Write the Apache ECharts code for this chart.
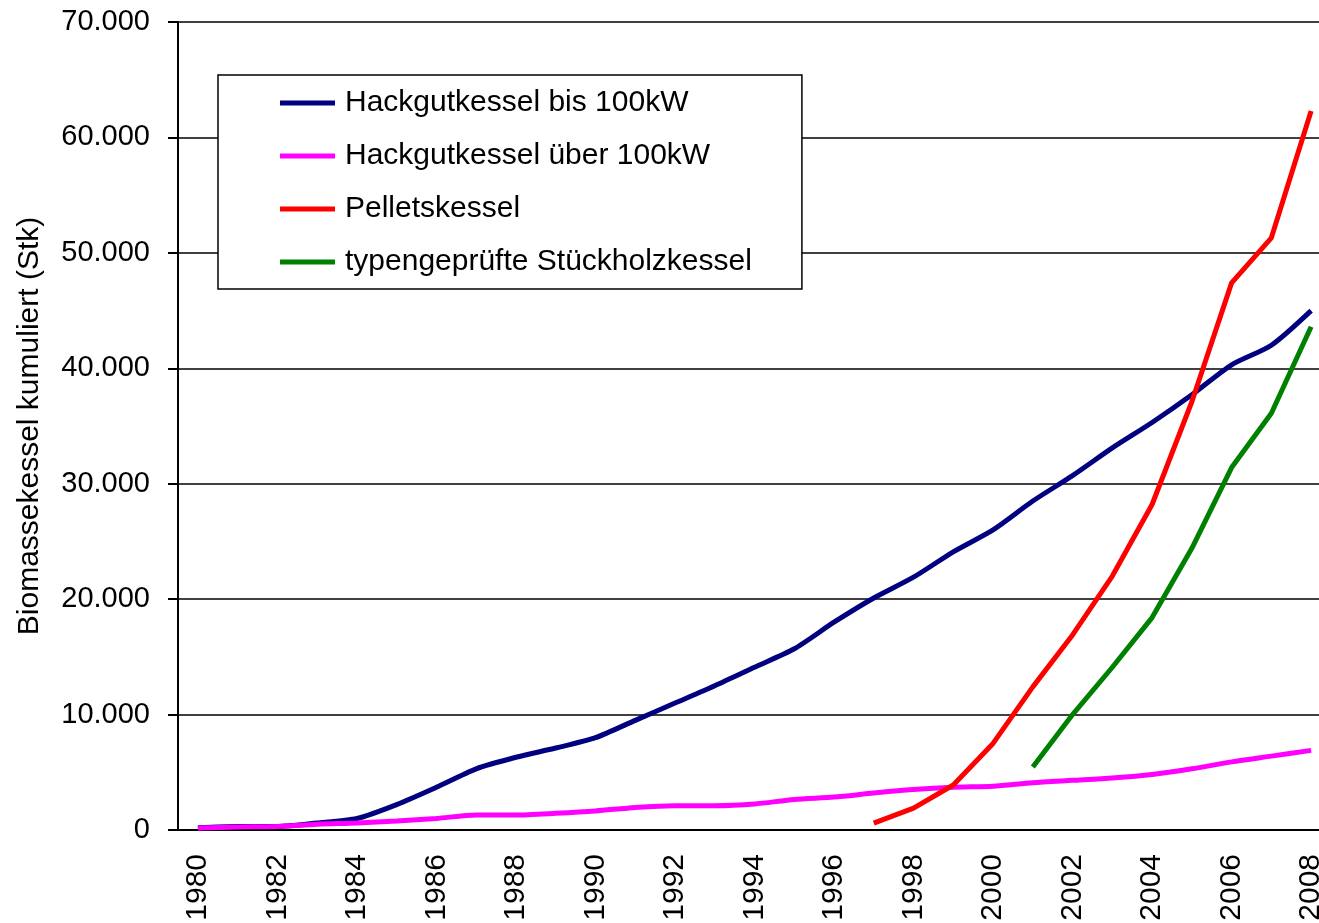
<!DOCTYPE html>
<html>
<head>
<meta charset="utf-8">
<script src="https://cdn.jsdelivr.net/npm/echarts@6/dist/echarts.min.js"></script>
<style>
  html, body { margin: 0; padding: 0; background: #fff; }
  #chart { width: 1319px; height: 923px; }
</style>
</head>
<body>
<div id="chart"></div>
<script>
// Jahre 1980 - 2008
const years = [];
for (let y = 1980; y <= 2008; y++) years.push(String(y));

const hackBis100 = [200, 300, 300, 600, 1000, 2200, 3700, 5300, 6300, 7100, 8000, 9500, 11000, 12500, 14100,
  15700, 18000, 20100, 21900, 24100, 26000, 28500, 30700, 33100, 35300, 37700, 40300, 42000, 45000];
const hackUeber100 = [170, 260, 300, 500, 600, 780, 1000, 1300, 1300, 1450, 1650, 1950, 2100, 2100, 2250,
  2650, 2850, 3200, 3500, 3700, 3800, 4100, 4300, 4500, 4800, 5300, 5900, 6400, 6900];
const pellets = [null, null, null, null, null, null, null, null, null, null, null, null, null, null, null,
  null, null, 600, 1900, 3900, 7500, 12400, 16900, 22000, 28200, 37100, 47400, 51300, 62300];
const stueckholz = [null, null, null, null, null, null, null, null, null, null, null, null, null, null, null,
  null, null, null, null, null, null, 5450, 10000, 14100, 18400, 24400, 31400, 36100, 43600];

const font = '"Liberation Sans", Arial, sans-serif';

const myChart = echarts.init(document.getElementById('chart'));

const option = {
  animation: false,
  textStyle: { fontFamily: font, color: '#000' },
  grid: {
    left: 178,
    top: 22,
    bottom: 93,
    width: 1153, // Plotbereich ragt rechts etwas über das Bild hinaus
    outerBoundsMode: 'none'
  },
  legend: {
    orient: 'vertical',
    left: 218,
    top: 75,
    icon: 'rect',
    itemWidth: 55,
    itemHeight: 5,
    itemGap: 23,
    padding: [13, 50, 12, 62],
    borderColor: '#000',
    borderWidth: 1.5,
    backgroundColor: '#fff',
    textStyle: { fontSize: 30, lineHeight: 30, color: '#000', fontFamily: font, padding: [0, 0, 0, 5] },
    data: ['Hackgutkessel bis 100kW', 'Hackgutkessel über 100kW', 'Pelletskessel', 'typengeprüfte Stückholzkessel']
  },
  xAxis: {
    type: 'category',
    data: years,
    boundaryGap: true,
    axisLine: { lineStyle: { color: '#000', width: 2 } },
    axisTick: { interval: 0, length: 9, lineStyle: { color: '#000', width: 2 } },
    axisLabel: {
      interval: 1,
      rotate: 90,
      margin: 24,
      fontSize: 30,
      color: '#000',
      fontFamily: font
    },
    splitLine: { show: false }
  },
  yAxis: {
    type: 'value',
    min: 0,
    max: 70000,
    interval: 10000,
    name: 'Biomassekessel kumuliert (Stk)',
    nameLocation: 'middle',
    nameGap: 133,
    nameTextStyle: { fontSize: 30, color: '#000', fontFamily: font },
    axisLine: { show: true, lineStyle: { color: '#000', width: 2 } },
    axisTick: { show: true, length: 10, lineStyle: { color: '#000', width: 2 } },
    axisLabel: {
      margin: 28,
      fontSize: 29,
      color: '#000',
      fontFamily: font,
      formatter: function (v) {
        return v === 0 ? '0' : (v / 1000) + '.000';
      }
    },
    splitLine: { show: true, lineStyle: { color: '#000', width: 1.5 } }
  },
  series: [
    {
      name: 'Hackgutkessel bis 100kW',
      type: 'line',
      data: hackBis100,
      symbol: 'none',
      smooth: 0.25,
      lineStyle: { color: '#000080', width: 5 },
      itemStyle: { color: '#000080' }
    },
    {
      name: 'Hackgutkessel über 100kW',
      type: 'line',
      data: hackUeber100,
      symbol: 'none',
      smooth: 0.25,
      lineStyle: { color: '#ff00ff', width: 5 },
      itemStyle: { color: '#ff00ff' }
    },
    {
      name: 'Pelletskessel',
      type: 'line',
      data: pellets,
      symbol: 'none',
      lineStyle: { color: '#ff0000', width: 5 },
      itemStyle: { color: '#ff0000' }
    },
    {
      name: 'typengeprüfte Stückholzkessel',
      type: 'line',
      data: stueckholz,
      symbol: 'none',
      lineStyle: { color: '#008000', width: 5 },
      itemStyle: { color: '#008000' }
    }
  ]
};

myChart.setOption(option);
</script>
</body>
</html>
